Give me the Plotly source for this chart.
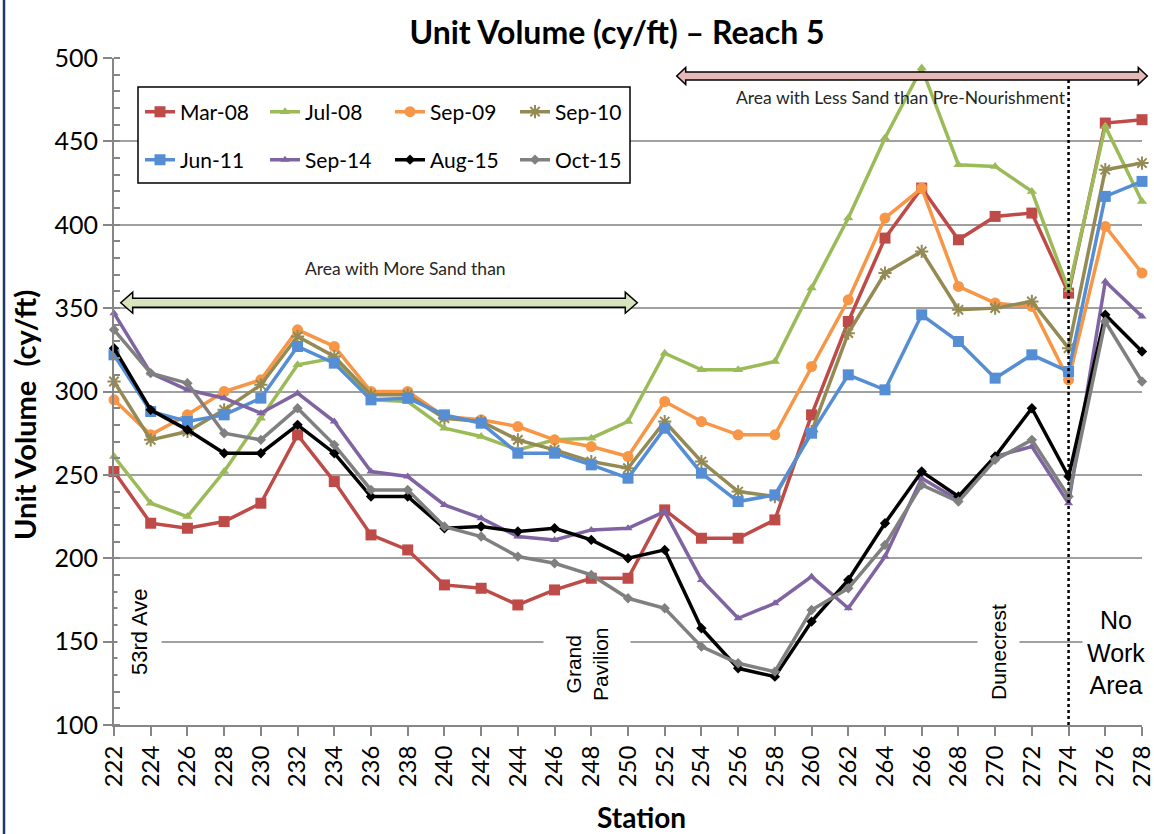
import plotly.graph_objects as go

# ---------------- data ----------------
stations = list(range(222, 280, 2))
tick_labels = [str(s) for s in stations]

mar08 = [252, 221, 218, 222, 233, 274, 246, 214, 205, 184, 182, 172, 181, 188, 188,
         229, 212, 212, 223, 286, 342, 392, 422, 391, 405, 407, 359, 461, 463]
jul08 = [261, 233, 225, 252, 284, 316, 320, 295, 294, 278, 273, 265, 271, 272, 282,
         323, 313, 313, 318, 362, 404, 452, 494, 436, 435, 420, 361, 459, 414]
sep09 = [295, 274, 286, 300, 307, 337, 327, 300, 300, 285, 283, 279, 271, 267, 261,
         294, 282, 274, 274, 315, 355, 404, 422, 363, 353, 351, 307, 399, 371]
sep10 = [306, 271, 276, 289, 304, 333, 321, 298, 298, 284, 282, 271, 265, 258, 254,
         282, 258, 240, 237, 276, 335, 371, 384, 349, 350, 354, 326, 433, 437]
jun11 = [322, 288, 282, 286, 296, 327, 317, 295, 296, 286, 281, 263, 263, 256, 248,
         278, 251, 234, 238, 275, 310, 301, 346, 330, 308, 322, 312, 417, 426]
sep14 = [347, 311, 301, 296, 287, 299, 282, 252, 249, 232, 224, 213, 211, 217, 218,
         228, 187, 164, 173, 189, 170, 201, 248, 235, 261, 267, 233, 366, 345]
aug15 = [326, 289, 277, 263, 263, 280, 263, 237, 237, 218, 219, 216, 218, 211, 200,
         205, 158, 134, 129, 162, 187, 221, 252, 237, 261, 290, 249, 346, 324]
oct15 = [337, 311, 305, 275, 271, 290, 268, 241, 241, 219, 213, 201, 197, 190, 176,
         170, 147, 137, 132, 169, 182, 208, 244, 234, 259, 271, 237, 342, 306]

series_names = ["Mar-08", "Jul-08", "Sep-09", "Sep-10", "Jun-11", "Sep-14", "Aug-15", "Oct-15"]
series_values = [mar08, jul08, sep09, sep10, jun11, sep14, aug15, oct15]

# ---------------- styles ----------------
colors = ["#BE4B48", "#9BBB59", "#F79646", "#948A54", "#558ED5", "#8064A2", "#000000", "#808080"]
symbols = ["square", "triangle-up", "circle", "asterisk-open", "square", "triangle-up", "diamond", "diamond"]
msizes = [11, 9, 11, 11, 11, 8, 8, 8]

W, H = 1154, 834
ML, MR, MT, MB = 114, 12, 58, 109
PW = W - ML - MR
PH = H - MT - MB


def pxx(p):
    return (p - ML) / PW


def pxy(p):
    return (H - MB - p) / PH


def block_arrow(x0p, x1p, ycp, body, head, hlen):
    pts = [(x0p, ycp), (x0p + hlen, ycp - head / 2), (x0p + hlen, ycp - body / 2),
           (x1p - hlen, ycp - body / 2), (x1p - hlen, ycp - head / 2), (x1p, ycp),
           (x1p - hlen, ycp + head / 2), (x1p - hlen, ycp + body / 2),
           (x0p + hlen, ycp + body / 2), (x0p + hlen, ycp + head / 2)]
    path = "M " + " L ".join(f"{pxx(a):.5f},{pxy(b):.5f}" for a, b in pts) + " Z"
    return path


fig = go.Figure()
for i, (name, vals) in enumerate(zip(series_names, series_values)):
    mk = dict(symbol=symbols[i], size=msizes[i], color=colors[i])
    if symbols[i].endswith("open"):
        mk["line"] = dict(color=colors[i], width=2)
    fig.add_trace(go.Scatter(
        x=stations, y=vals, name=name, mode="lines+markers",
        line=dict(color=colors[i], width=3.5),
        marker=mk, cliponaxis=False,
        legend="legend" if i < 4 else "legend2",
    ))

axis_gray = "#868686"
grid_gray = "#A0A0A0"
main_font = "Lato, Open Sans, sans-serif"
tick_font = dict(family=main_font, size=24, color="#000000")

fig.update_layout(
    width=W, height=H, autosize=False,
    margin=dict(l=ML, r=MR, t=MT, b=MB, autoexpand=False),
    paper_bgcolor="white", plot_bgcolor="white",
    title=dict(text="<b>Unit Volume (cy/ft) – Reach 5</b>", x=617 / W, y=1 - 33 / H,
               xref="container", yref="container", xanchor="center", yanchor="middle",
               font=dict(family=main_font, size=32, color="#000000")),
    xaxis=dict(range=[222, 278], tickmode="array", tickvals=stations, ticktext=tick_labels,
               tickangle=-90, ticks="outside", ticklen=9, tickwidth=1.5, tickcolor=axis_gray,
               showline=True, linecolor=axis_gray, linewidth=2, showgrid=False, zeroline=False,
               tickfont=tick_font, ticklabeloverflow="allow", automargin=False, fixedrange=True),
    yaxis=dict(range=[100, 500], tick0=100, dtick=50, ticks="outside", ticklen=9, tickwidth=1.5,
               tickcolor=axis_gray, showline=True, linecolor=axis_gray, linewidth=2,
               showgrid=True, gridcolor=grid_gray, gridwidth=1.5, zeroline=False,
               tickfont=dict(family=main_font, size=25, color="#000000"),
               ticklabeloverflow="allow", automargin=False,
               minor=dict(dtick=10, ticks="inside", ticklen=6, tickcolor=axis_gray, showgrid=False)),
    legend=dict(orientation="h", x=pxx(140), y=pxy(112), xanchor="left", yanchor="middle",
                entrywidth=80, entrywidthmode="pixels", bgcolor="rgba(0,0,0,0)",
                font=dict(family=main_font, size=21, color="#000000")),
    legend2=dict(orientation="h", x=pxx(140), y=pxy(160), xanchor="left", yanchor="middle",
                 entrywidth=80, entrywidthmode="pixels", bgcolor="rgba(0,0,0,0)",
                 font=dict(family=main_font, size=21, color="#000000")),
    showlegend=True,
)

shapes = []
# legend frame
shapes.append(dict(type="rect", xref="paper", yref="paper", x0=pxx(138), x1=pxx(630),
                   y0=pxy(183), y1=pxy(87), fillcolor="white",
                   line=dict(color="#000000", width=1.5), layer="above"))
# block arrows
shapes.append(dict(type="path", xref="paper", yref="paper",
                   path=block_arrow(120.7, 637.3, 302.7, 9, 21, 12),
                   fillcolor="#D7E4BD", line=dict(color="#000000", width=1.5), layer="above"))
shapes.append(dict(type="path", xref="paper", yref="paper",
                   path=block_arrow(676.7, 1147.3, 76, 8, 17, 9),
                   fillcolor="#E6B9B8", line=dict(color="#000000", width=1.5), layer="above"))
# dotted divider at station 274
shapes.append(dict(type="line", xref="x", yref="paper", x0=274, x1=274, y0=0, y1=pxy(79),
                   line=dict(color="#000000", width=2.5, dash="dot"), layer="above"))
# left border of chart frame
shapes.append(dict(type="line", xref="paper", yref="paper", x0=pxx(4), x1=pxx(4),
                   y0=pxy(834), y1=pxy(0), line=dict(color="#1F3864", width=2.5)))
fig.update_layout(shapes=shapes)

label_font = "Liberation Sans, Arial, sans-serif"
ann_font = dict(family=main_font, size=17.5, color="#262626")
annotations = [
    dict(text="<b>Station</b>", x=pxx(641), y=pxy(817), xref="paper", yref="paper",
         showarrow=False, xanchor="center", yanchor="middle",
         font=dict(family=main_font, size=28, color="#000000")),
    dict(text="<b>Unit Volume \u00a0(cy/ft)</b>", x=pxx(25), y=pxy(415), xref="paper", yref="paper",
         showarrow=False, xanchor="center", yanchor="middle", textangle=-90,
         font=dict(family=main_font, size=29, color="#000000")),
    dict(text="Area with More Sand than", x=pxx(405), y=pxy(268), xref="paper", yref="paper",
         showarrow=False, xanchor="center", yanchor="middle", font=ann_font),
    dict(text="Area with Less Sand than Pre-Nourishment", x=pxx(901), y=pxy(97), xref="paper",
         yref="paper", showarrow=False, xanchor="center", yanchor="middle", font=ann_font),
    dict(text="53rd Ave", x=pxx(139), y=pxy(632), xref="paper", yref="paper", showarrow=False,
         textangle=-90, xanchor="center", yanchor="middle", bgcolor="white", borderpad=9,
         font=dict(family=label_font, size=22, color="#000000")),
    dict(text="Grand<br>Pavilion", x=pxx(587), y=pxy(664), xref="paper", yref="paper",
         showarrow=False, textangle=-90, xanchor="center", yanchor="middle", bgcolor="white",
         borderpad=18, font=dict(family=label_font, size=21, color="#000000")),
    dict(text="Dunecrest", x=pxx(998), y=pxy(652), xref="paper", yref="paper", showarrow=False,
         textangle=-90, xanchor="center", yanchor="middle", bgcolor="white", borderpad=9,
         font=dict(family=label_font, size=21, color="#000000")),
    dict(text="No<br>Work<br>Area", x=pxx(1116), y=pxy(652), xref="paper", yref="paper",
         showarrow=False, xanchor="center", yanchor="middle", bgcolor="white", borderpad=4,
         font=dict(family=label_font, size=25, color="#000000")),
]
fig.update_layout(annotations=annotations)

fig.write_html("out.html", config={"displayModeBar": False},
               post_script="document.body.style.margin='0px';")
